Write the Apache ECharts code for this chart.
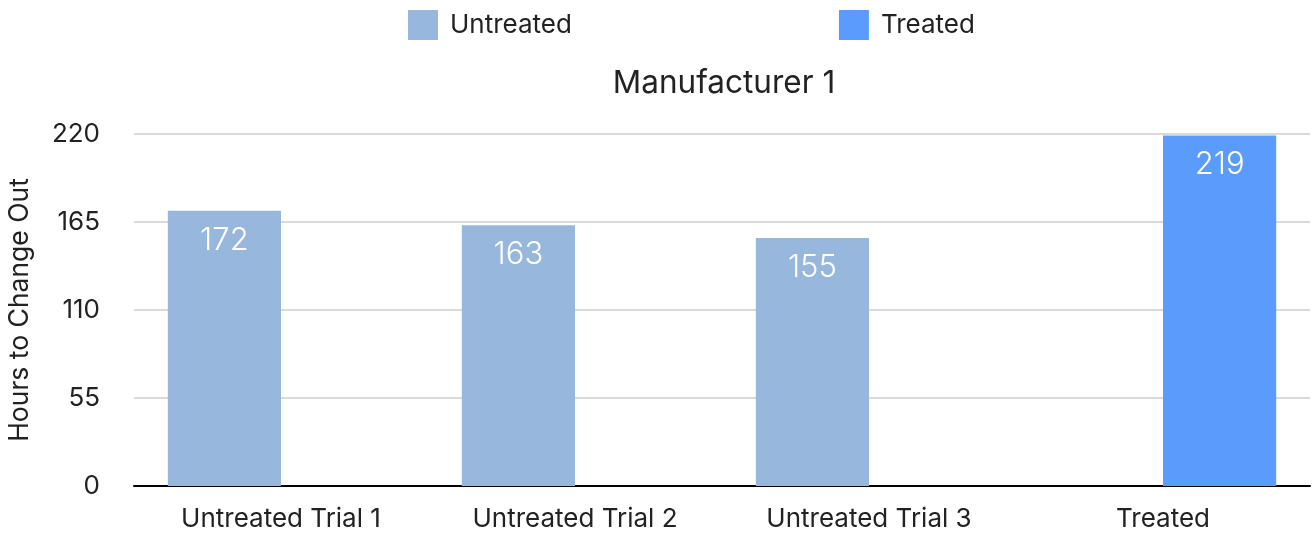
<!DOCTYPE html>
<html>
<head>
<meta charset="utf-8">
<script src="https://cdn.jsdelivr.net/npm/echarts@6/dist/echarts.min.js"></script>
<style>
html,body{margin:0;padding:0;background:#fff;}
#chart{width:1312px;height:535px;}
</style>
</head>
<body>
<div id="chart"></div>
<script>
const categories = ['Untreated Trial 1', 'Untreated Trial 2', 'Untreated Trial 3', 'Treated'];
const untreatedValues = [172, 163, 155, null];
const treatedValues = [null, null, null, 219];
const yTicks = [0, 55, 110, 165, 220];
const seriesNames = ['Untreated', 'Treated'];
const titleText = 'Manufacturer 1';
const yAxisName = 'Hours to Change Out';

const FONT = 'Inter';
const chart = echarts.init(document.getElementById('chart'), null, {renderer: 'canvas'});
const valueLabel = {
  show: true,
  position: 'insideTop',
  distance: 14,
  color: '#ffffff',
  fontFamily: FONT,
  fontWeight: 300,
  fontSize: 31
};
chart.setOption({
  animation: false,
  backgroundColor: '#ffffff',
  title: {
    text: titleText,
    left: 719,
    top: 63,
    textAlign: 'center',
    textStyle: {fontFamily: FONT, fontSize: 31.5, fontWeight: 'normal', color: '#222222'}
  },
  legend: {
    data: seriesNames,
    left: 403,
    top: 5,
    itemWidth: 30,
    itemHeight: 30,
    itemGap: 267,
    icon: 'rect',
    textStyle: {fontFamily: FONT, fontSize: 26, color: '#222222', padding: [0, 0, 0, 7]}
  },
  grid: {left: 134, right: 2, top: 134, bottom: 49, containLabel: false, outerBoundsMode: 'none'},
  xAxis: {
    type: 'category',
    data: categories,
    axisLine: {show: true, lineStyle: {color: '#000000', width: 2}},
    axisTick: {show: false},
    axisLabel: {fontFamily: FONT, fontSize: 26, color: '#222222', margin: 20}
  },
  yAxis: {
    type: 'value',
    min: yTicks[0],
    max: yTicks[yTicks.length - 1],
    interval: yTicks[1] - yTicks[0],
    name: yAxisName,
    nameLocation: 'middle',
    nameGap: 100,
    nameTextStyle: {fontFamily: FONT, fontSize: 26.5, color: '#222222'},
    axisLine: {show: false},
    axisTick: {show: false},
    axisLabel: {fontFamily: FONT, fontSize: 26, color: '#222222', margin: 34},
    splitLine: {show: true, lineStyle: {color: '#cccccc', width: 1.5}}
  },
  series: [
    {
      name: seriesNames[0],
      type: 'bar',
      data: untreatedValues,
      itemStyle: {color: '#97b8dc'},
      barGap: '0%',
      barCategoryGap: '23%',
      label: valueLabel
    },
    {
      name: seriesNames[1],
      type: 'bar',
      data: treatedValues,
      itemStyle: {color: '#5a9cfc'},
      barGap: '0%',
      barCategoryGap: '23%',
      label: valueLabel
    }
  ]
});
</script>
</body>
</html>
